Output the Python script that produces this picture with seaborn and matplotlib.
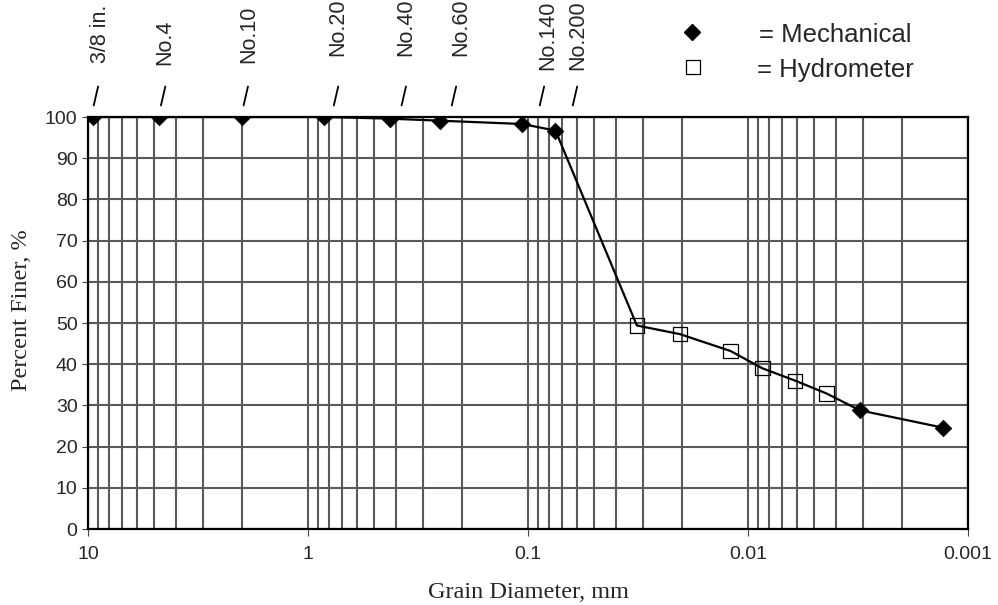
import numpy as np
import pandas as pd
import matplotlib
matplotlib.use("Agg")
import matplotlib.pyplot as plt
from matplotlib.lines import Line2D
from matplotlib.ticker import FixedLocator, NullFormatter, LogLocator
import seaborn as sns

# ---------------- data ----------------
mech_d = [9.5, 4.75, 2.0, 0.85, 0.425, 0.25, 0.106, 0.075, 0.0031, 0.0013]
mech_p = [100, 100, 100, 100, 99.6, 99.1, 98.3, 96.7, 28.8, 24.6]
hyd_d = [0.032, 0.0204, 0.0120, 0.0086, 0.0061, 0.0044]
hyd_p = [49.4, 47.3, 43.2, 39.0, 36.0, 32.9]
sieve_labels = ["3/8 in.", "No.4", "No.10", "No.20", "No.40", "No.60", "No.140", "No.200"]
sieve_d = [9.5, 4.75, 2.0, 0.85, 0.425, 0.25, 0.106, 0.075]
x_ticks = [10, 1, 0.1, 0.01, 0.001]
x_tick_labels = ["10", "1", "0.1", "0.01", "0.001"]
y_ticks = [0, 10, 20, 30, 40, 50, 60, 70, 80, 90, 100]

# ---------------- layout (pixels) ----------------
W, H = 998, 605
label_dx = [8, 6, 7, 14, 16, 20, 25, 22]
label_bottom = [63, 65, 63, 56, 56, 56, 70, 70]
slash_dx = [3, 4, 4, 12.5, 14, 13.5, 19.5, 19.5]
slash_y = 96

sns.set_style("white")
plt.rcParams["font.family"] = ["Liberation Sans", "DejaVu Sans"]

fig = plt.figure(figsize=(W / 100, H / 100), dpi=100)
ax = fig.add_axes([88 / W, 1 - 529 / H, (968 - 88) / W, (529 - 117) / H])

df = pd.DataFrame({"d": mech_d + hyd_d, "p": mech_p + hyd_p})
df = df.sort_values("d", ascending=False).reset_index(drop=True)

ax.set_xscale("log")
sns.lineplot(data=df, x="d", y="p", sort=False, estimator=None, color="black",
             linewidth=1.6, ax=ax, zorder=3)
sns.scatterplot(x=mech_d, y=mech_p, marker="D", s=70, color="black",
                edgecolor="black", linewidth=0.6, ax=ax, zorder=4)
sns.scatterplot(x=hyd_d, y=hyd_p, marker="s", s=105, facecolor="none",
                edgecolor="black", linewidth=0.9, ax=ax, zorder=4)

ax.set_xlim(10, 0.001)
ax.set_ylim(0, 100)
ax.xaxis.set_major_locator(FixedLocator(x_ticks))
ax.set_xticklabels(x_tick_labels)
ax.xaxis.set_minor_locator(LogLocator(base=10, subs=np.arange(2, 10)))
ax.xaxis.set_minor_formatter(NullFormatter())
ax.set_yticks(y_ticks)

ax.grid(True, which="both", axis="x", color="#5a5a5a", linewidth=1.5)
ax.grid(True, which="major", axis="y", color="#5a5a5a", linewidth=1.5)
ax.set_axisbelow(True)

ax.tick_params(axis="x", which="major", direction="out", length=5, width=0.8,
               color="#444444", pad=7, labelsize=14, bottom=True)
ax.tick_params(axis="x", which="minor", length=0)
ax.tick_params(axis="y", which="major", direction="out", length=4.5, width=0.8,
               color="#444444", pad=3, labelsize=14, left=True)
for s in ax.spines.values():
    s.set_color("black")
    s.set_linewidth(1.6)
    s.set_visible(True)

ax.set_xlabel("")
ax.set_ylabel("")
fig.text(529 / W, 1 - 593 / H, "Grain Diameter, mm", ha="center", va="center",
         fontsize=17.5, family=["Liberation Serif", "DejaVu Serif"])
fig.text(22 / W, 1 - 310 / H, "Percent Finer, %", ha="center", va="center",
         rotation=90, fontsize=17.5, family=["Liberation Serif", "DejaVu Serif"])

# sieve labels and slashes
for d, lab, ldx, lb, sdx in zip(sieve_d, sieve_labels, label_dx, label_bottom, slash_dx):
    px = ax.transData.transform((d, 50))[0]
    fig.text((px + ldx) / W, 1 - lb / H, lab, rotation=90, ha="center",
             va="bottom", fontsize=15.5)
    sx = px + sdx
    fig.add_artist(Line2D([(sx - 2.2) / W, (sx + 2.2) / W],
                          [1 - (slash_y + 9.5) / H, 1 - (slash_y - 9.5) / H],
                          transform=fig.transFigure, color="black", linewidth=1.3))

# legend
fig.add_artist(Line2D([692 / W], [1 - 32 / H], marker="D", markersize=8.5,
                      color="black", transform=fig.transFigure, linestyle="none"))
fig.add_artist(Line2D([693 / W], [1 - 67 / H], marker="s", markersize=10,
                      markerfacecolor="none", markeredgecolor="black",
                      markeredgewidth=0.9, transform=fig.transFigure, linestyle="none"))
fig.text(759 / W, 1 - 35 / H, "= Mechanical", ha="left", va="center", fontsize=18.5)
fig.text(757 / W, 1 - 70 / H, "= Hydrometer", ha="left", va="center", fontsize=18.5)

fig.savefig("out.png", dpi=100)
